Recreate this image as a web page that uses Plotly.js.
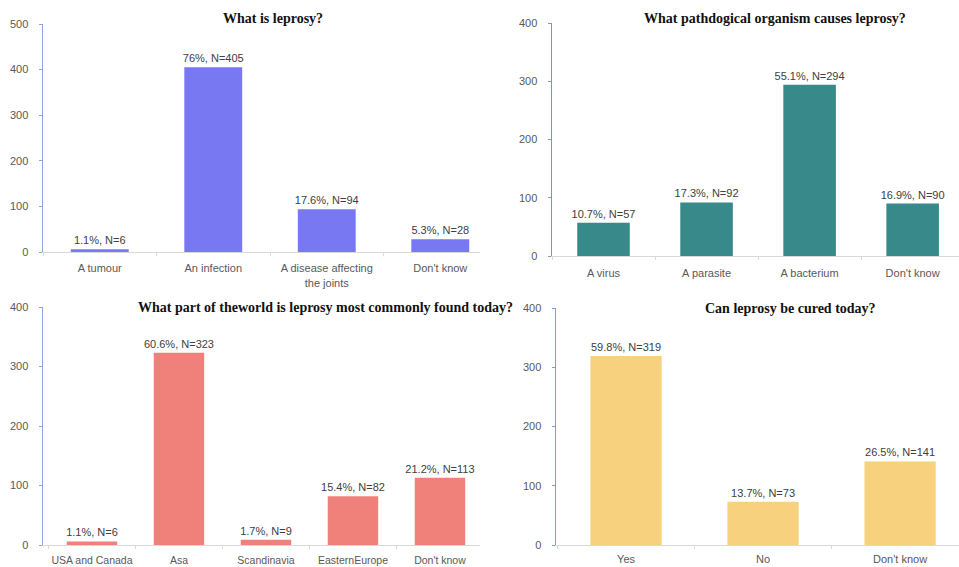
<!DOCTYPE html>
<html>
<head>
<meta charset="utf-8">
<script src="https://cdn.plot.ly/plotly-3.0.1.min.js"></script>
<style>html,body{margin:0;padding:0;background:#fff;}#chart{width:959px;height:567px;}</style>
</head>
<body>
<div id="chart"></div>
<script>
// Survey answers about leprosy (counts of respondents, N = 533)
const whatCats = ['A tumour', 'An infection', 'A disease affecting<br>the joints', "Don't know"];
const whatVals = [6, 405, 94, 28];
const whatPct = ['1.1%', '76%', '17.6%', '5.3%'];

const organismCats = ['A virus', 'A parasite', 'A bacterium', "Don't know"];
const organismVals = [57, 92, 294, 90];
const organismPct = ['10.7%', '17.3%', '55.1%', '16.9%'];

const regionCats = ['USA and Canada', 'Asa', 'Scandinavia', 'EasternEurope', "Don't know"];
const regionVals = [6, 323, 9, 82, 113];
const regionPct = ['1.1%', '60.6%', '1.7%', '15.4%', '21.2%'];

const curedCats = ['Yes', 'No', "Don't know"];
const curedVals = [319, 73, 141];
const curedPct = ['59.8%', '13.7%', '26.5%'];

const titles = [
  'What is leprosy?',
  'What pathdogical organism causes leprosy?',
  'What part of theworld is leprosy most commonly found today?',
  'Can leprosy be cured today?'
];

const W = 959, H = 567;
const px = v => v / W;
const py = v => (H - v) / H;

function labels(pct, vals) {
  return vals.map((v, i) => pct[i] + ', N=' + v);
}

const sans = 'Liberation Sans, Arial, sans-serif';

function barTrace(cats, vals, pct, color, ax, width) {
  return {
    type: 'bar', x: cats, y: vals,
    xaxis: 'x' + ax, yaxis: 'y' + ax,
    marker: {color: color},
    width: width,
    text: labels(pct, vals),
    textposition: 'outside',
    constraintext: 'none',
    cliponaxis: false,
    textfont: {family: sans, size: 11, color: '#404040'},
    hoverinfo: 'skip'
  };
}

const data = [
  barTrace(whatCats, whatVals, whatPct, '#7878F2', '', 0.51),
  barTrace(organismCats, organismVals, organismPct, '#38898A', '2', 0.51),
  barTrace(regionCats, regionVals, regionPct, '#F0817A', '3', 0.58),
  barTrace(curedCats, curedVals, curedPct, '#F8D17F', '4', 0.52)
];

function xAxis(d0, d1, r0, r1, anchor, standoff, fontSize) {
  return {
    domain: [px(d0), px(d1)], range: [r0, r1], anchor: anchor,
    type: 'category', fixedrange: true,
    showline: true, linecolor: '#d9d9d9', linewidth: 1,
    ticks: 'outside', tickson: 'boundaries', ticklen: 3, tickcolor: '#d9d9d9',
    tickangle: 0, ticklabelstandoff: standoff,
    showgrid: false, zeroline: false,
    tickfont: {family: sans, size: fontSize, color: '#595959'}
  };
}

function yAxis(zeroPx, topPx, maxV, anchor, lineColor) {
  return {
    domain: [py(zeroPx), py(topPx)], range: [0, maxV], anchor: anchor,
    dtick: 100, fixedrange: true,
    showline: true, linecolor: lineColor, linewidth: 1.5,
    ticks: 'outside', ticklen: 3, tickcolor: lineColor,
    ticklabelstandoff: 8,
    showgrid: false, zeroline: false,
    tickfont: {family: sans, size: 11, color: '#595959'}
  };
}

const layout = {
  width: W, height: H,
  margin: {l: 0, r: 0, t: 0, b: 0},
  paper_bgcolor: '#ffffff', plot_bgcolor: '#ffffff',
  showlegend: false, bargap: 0.45,
  xaxis: xAxis(43, 480, -0.5, 3.35, 'y', 6, 11),
  yaxis: yAxis(252, 24, 500, 'x', '#8aa4dc'),
  xaxis2: xAxis(552, 959, -0.5, 3.45, 'y2', 7, 11),
  yaxis2: yAxis(256, 23, 400, 'x2', '#7c98bc'),
  xaxis3: xAxis(43, 480, -0.563, 4.46, 'y3', 5, 10.5),
  yaxis3: yAxis(545, 307, 400, 'x3', '#8aa4dc'),
  xaxis4: xAxis(556, 959, -0.511, 2.43, 'y4', 4, 11),
  yaxis4: yAxis(545, 308, 400, 'x4', '#7c9ee0'),
  annotations: [
    [273, 18, titles[0]],
    [775, 18, titles[1]],
    [325, 307, titles[2]],
    [790, 308, titles[3]]
  ].map(([x, y, t]) => ({
    xref: 'paper', yref: 'paper', x: px(x), y: py(y),
    xanchor: 'center', yanchor: 'middle', showarrow: false,
    text: '<b>' + t + '</b>',
    font: {family: 'Liberation Serif, Times New Roman, serif', size: 14, color: '#111'}
  }))
};

Plotly.newPlot('chart', data, layout, {displayModeBar: false, staticPlot: true});
</script>
</body>
</html>
